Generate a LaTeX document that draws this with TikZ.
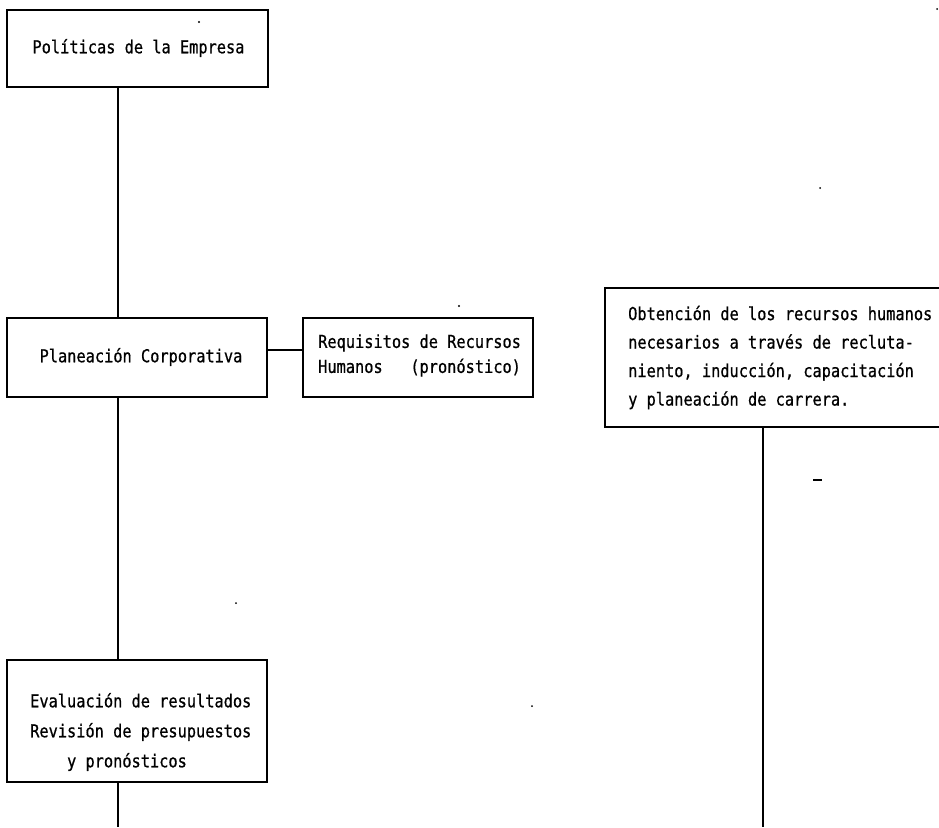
\documentclass[tikz,border=0pt]{standalone}
\usepackage{fontspec}
\newfontfamily\printfont[FakeStretch=0.86,FakeBold=0.7]{DejaVu Sans Mono}
\begin{document}
\begin{tikzpicture}[x=1pt,y=-1pt,
  box/.style={draw=black,line width=1.4pt,rectangle,inner sep=0pt,fill=none},
  txt/.style={inner sep=0pt,align=left,font=\printfont\fontsize{17.8}{#1}\selectfont},
  txt/.default=28,
  link/.style={draw=black,line width=1.3pt},
  speck/.style={fill=black}]
\clip (0,0) rectangle (939,827);
\fill[white] (0,0) rectangle (939,827);

% column positions of the vertical connectors
\coordinate (lx) at (118,0);
\coordinate (rx) at (763,0);
\coordinate (ly) at (0,350);
\coordinate (bottom) at (0,827);

% boxes
\node[box,minimum width=261pt,minimum height=77pt] (politicas) at (137.5,48.5) {};
\node[box,minimum width=260pt,minimum height=79pt] (planeacion) at (137,357.5) {};
\node[box,minimum width=230pt,minimum height=79pt] (requisitos) at (418,357.5) {};
\node[box,minimum width=360pt,minimum height=139pt] (obtencion) at (785,357.5) {};
\node[box,minimum width=260pt,minimum height=122pt] (evaluacion) at (137,721) {};

% texts
\node[txt] (politicas-t) at (138.5,48) {Políticas de la Empresa};
\node[txt] (planeacion-t) at (141,357) {Planeación Corporativa};
\node[txt=25,anchor=west] (requisitos-t) at (318,355.5)
  {Requisitos de Recursos\\Humanos~~~(pronóstico)};
\node[txt=28.5,anchor=west] (obtencion-t) at (628,357.5)
  {Obtención de los recursos humanos\\necesarios a través de recluta-\\niento, inducción, capacitación\\y planeación de carrera.};
\node[txt=30,anchor=west] (evaluacion-t) at (30,732)
  {Evaluación de resultados\\Revisión de presupuestos\\~~~~y pronósticos};

% connectors
\draw[link] (politicas.south -| lx) -- (planeacion.north -| lx);
\draw[link] (planeacion.east |- ly) -- (requisitos.west |- ly);
\draw[link] (planeacion.south -| lx) -- (evaluacion.north -| lx);
\draw[link] (evaluacion.south -| lx) -- (bottom -| lx);
\draw[link] (obtencion.south -| rx) -- (bottom -| rx);

% small specks on the sheet
\fill[speck] (199,22) circle (1.2);
\fill[speck] (459,306) circle (1.2);
\fill[speck] (820,188) circle (1);
\fill[speck] (236,603) circle (1);
\fill[speck] (532,706) circle (1);
\fill[speck] (937,9) circle (1);
\draw[line width=1.2pt] (813,480) -- (822,480);
\end{tikzpicture}
\end{document}
